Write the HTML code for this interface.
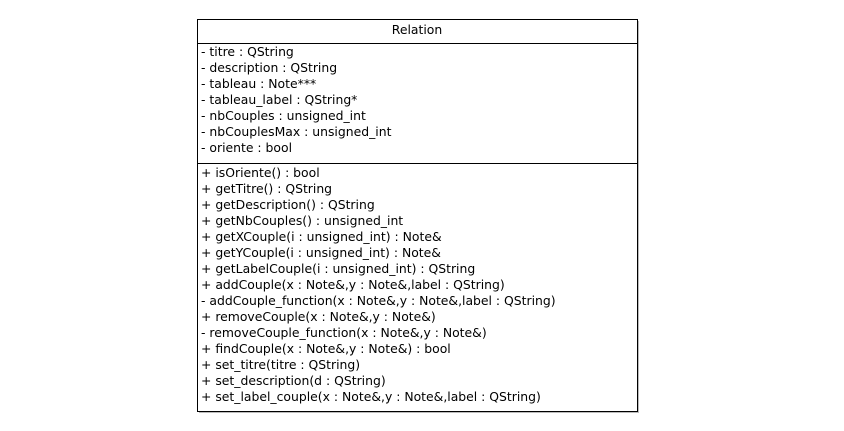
<!DOCTYPE html>
<html><head><meta charset="utf-8"><style>
html,body{margin:0;padding:0;background:#fff;width:844px;height:431px;overflow:hidden}
</style></head><body>
<svg width="844" height="431" xmlns="http://www.w3.org/2000/svg" font-family="DejaVu Sans, sans-serif" font-size="12.4" fill="#000">
<rect x="199" y="21" width="440" height="392" fill="#bbb"/>
<rect x="197.5" y="19.5" width="440" height="392" fill="#fff" stroke="#000"/>
<line x1="197" y1="43.5" x2="638" y2="43.5" stroke="#000"/>
<line x1="197" y1="163.5" x2="638" y2="163.5" stroke="#000"/>
<text x="417" y="34" text-anchor="middle">Relation</text>
<g>
<text x="201" y="56">- titre : QString</text>
<text x="201" y="72">- description : QString</text>
<text x="201" y="88">- tableau : Note***</text>
<text x="201" y="104">- tableau_label : QString*</text>
<text x="201" y="120">- nbCouples : unsigned_int</text>
<text x="201" y="136">- nbCouplesMax : unsigned_int</text>
<text x="201" y="152">- oriente : bool</text>
</g>
<g>
<text x="201" y="177">+ isOriente() : bool</text>
<text x="201" y="193">+ getTitre() : QString</text>
<text x="201" y="209">+ getDescription() : QString</text>
<text x="201" y="225">+ getNbCouples() : unsigned_int</text>
<text x="201" y="241">+ getXCouple(i : unsigned_int) : Note&amp;</text>
<text x="201" y="257">+ getYCouple(i : unsigned_int) : Note&amp;</text>
<text x="201" y="273">+ getLabelCouple(i : unsigned_int) : QString</text>
<text x="201" y="289">+ addCouple(x : Note&amp;,y : Note&amp;,label : QString)</text>
<text x="201" y="305">- addCouple_function(x : Note&amp;,y : Note&amp;,label : QString)</text>
<text x="201" y="321">+ removeCouple(x : Note&amp;,y : Note&amp;)</text>
<text x="201" y="337">- removeCouple_function(x : Note&amp;,y : Note&amp;)</text>
<text x="201" y="353">+ findCouple(x : Note&amp;,y : Note&amp;) : bool</text>
<text x="201" y="369">+ set_titre(titre : QString)</text>
<text x="201" y="385">+ set_description(d : QString)</text>
<text x="201" y="401">+ set_label_couple(x : Note&amp;,y : Note&amp;,label : QString)</text>
</g>
</svg>
</body></html>
